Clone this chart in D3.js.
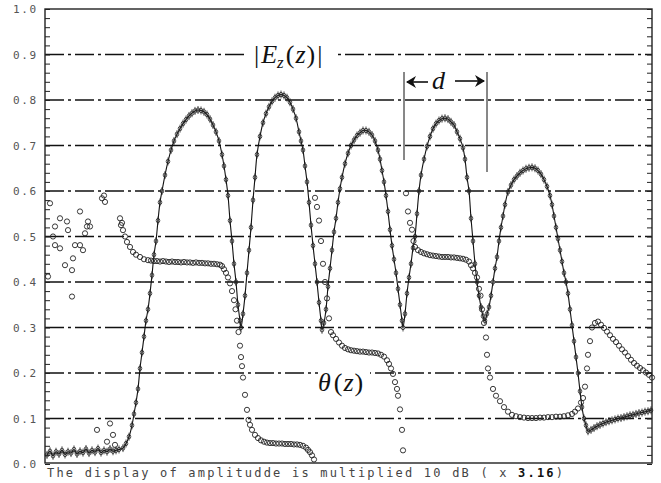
<!DOCTYPE html>
<html>
<head>
<meta charset="utf-8">
<script src="https://cdn.jsdelivr.net/npm/d3@7"></script>
<style>
  body { margin: 0; background: #fff; }
  svg { display: block; }
</style>
</head>
<body>
<svg width="661" height="483"></svg>
<script>
// y ticks (the z axis has no labels)
var yTicks = [0, 0.1, 0.2, 0.3, 0.4, 0.5, 0.6, 0.7, 0.8, 0.9, 1.0];
var yLabels = ['0.0', '0.1', '0.2', '0.3', '0.4', '0.5', '0.6', '0.7', '0.8', '0.9', '1.0'];
var footNote = 'The display of amplitudde is multiplied 10 dB ( x ';
var footBold = '3.16';

// |Ez(z)| samples, [z, value]
var amplitude = [
  [2,0.02],[5,0.028],[8,0.018],[11,0.027],[14,0.022],[17,0.03],[20,0.021],[23,0.027],[26,0.024],[29,0.032],
  [32,0.022],[35,0.028],[38,0.025],[41,0.033],[44,0.024],[47,0.03],[50,0.026],[53,0.034],[56,0.025],[59,0.03],
  [62,0.027],[65,0.033],[68,0.028],[71,0.03],[74,0.032],
  [78,0.035],[81,0.045],[84,0.06],[87,0.085],[89,0.11],[91,0.135],[93,0.165],[95,0.21],[97,0.245],[99,0.28],
  [101,0.315],[103,0.34],[105,0.375],[107,0.415],[109,0.46],[111,0.49],[113,0.535],[115,0.575],[117,0.6],
  [120,0.635],[123,0.665],[126,0.69],[129,0.71],[132,0.725],[135,0.737],[138,0.748],[141,0.757],[144,0.765],
  [147,0.771],[150,0.776],[153,0.778],[156,0.777],[159,0.774],[162,0.768],[165,0.758],[168,0.745],[171,0.73],
  [174,0.71],[177,0.68],[179,0.655],[181,0.625],[183,0.59],[185,0.535],[187,0.49],[189,0.44],[191,0.4],
  [193,0.35],[195,0.315],[196,0.3],
  [198,0.33],[200,0.37],[202,0.42],[204,0.47],[206,0.52],[208,0.58],[210,0.63],[212,0.68],[215,0.72],
  [218,0.75],[221,0.77],[224,0.785],[227,0.797],[230,0.805],[233,0.81],[236,0.812],[239,0.81],[242,0.805],
  [245,0.795],[248,0.78],[251,0.76],[254,0.73],[256,0.71],[258,0.69],[260,0.655],[262,0.62],[264,0.575],
  [266,0.525],[268,0.48],[270,0.44],[272,0.4],[274,0.355],[276,0.315],[277,0.295],
  [279,0.31],[281,0.34],[283,0.39],[285,0.43],[287,0.47],[289,0.51],[291,0.54],[293,0.575],[295,0.605],
  [297,0.63],[300,0.66],[303,0.683],[306,0.7],[309,0.712],[312,0.722],[315,0.728],[318,0.733],[321,0.733],
  [324,0.73],[327,0.723],[330,0.71],[333,0.69],[335,0.67],[337,0.645],[339,0.62],[341,0.59],[343,0.555],
  [345,0.515],[347,0.48],[349,0.45],[351,0.42],[353,0.385],[355,0.35],[357,0.315],[358,0.3],
  [360,0.33],[362,0.375],[364,0.41],[366,0.44],[368,0.475],[370,0.5],[372,0.55],[374,0.6],[376,0.635],
  [379,0.67],[382,0.698],[385,0.72],[388,0.737],[391,0.748],[394,0.755],[397,0.759],[400,0.76],[403,0.758],
  [406,0.752],[409,0.745],[412,0.73],[415,0.715],[418,0.695],[420,0.67],[422,0.63],[424,0.6],[426,0.54],
  [428,0.49],[430,0.44],[432,0.4],[434,0.37],[436,0.345],[438,0.325],[440,0.315],
  [442,0.33],[444,0.345],[446,0.37],[448,0.4],[450,0.43],[452,0.455],[454,0.49],[456,0.52],[458,0.545],
  [460,0.57],[463,0.598],[466,0.613],[469,0.625],[472,0.633],[475,0.64],[478,0.645],[481,0.649],[484,0.651],
  [487,0.652],[490,0.65],[493,0.645],[496,0.637],[499,0.625],[502,0.61],[505,0.59],[507,0.57],[509,0.545],
  [511,0.52],[513,0.495],[515,0.47],[517,0.445],[519,0.42],[521,0.4],[523,0.375],[525,0.34],[527,0.305],
  [529,0.27],[531,0.235],[533,0.2],[535,0.16],[537,0.125],[539,0.1],[541,0.085],[543,0.072],
  [546,0.075],[549,0.079],[552,0.083],[555,0.086],[558,0.089],[561,0.092],[564,0.094],[567,0.096],[570,0.098],
  [573,0.1],[576,0.101],[579,0.103],[582,0.105],[585,0.107],[588,0.108],[591,0.11],[594,0.112],[597,0.113],
  [600,0.115],[603,0.116],[606,0.118]
];

// theta(z) samples, [z, value]
var theta = [
  [3,0.412],[5,0.573],[8,0.5],[10,0.522],[10,0.481],[15,0.54],[15,0.474],[20,0.437],[22,0.533],[23,0.514],
  [27,0.426],[27,0.368],[28,0.452],[30,0.481],[35,0.481],[35,0.555],[38,0.47],[40,0.507],[42,0.522],[43,0.533],
  [45,0.522],[57,0.584],[59,0.59],[60,0.576],
  [52,0.075],[62,0.049],[65,0.089],[68,0.064],[70,0.042],
  [75,0.54],[76,0.525],[77,0.53],[78,0.514],[80,0.5],[82,0.488],[85,0.477],[88,0.466],[91,0.46],[95,0.455],
  [99,0.45],[103,0.448],[106,0.447],[109,0.446],[112,0.446],[115,0.445],[118,0.446],[121,0.445],[124,0.444],
  [127,0.445],[130,0.444],[133,0.444],[136,0.443],[139,0.444],[142,0.443],[145,0.443],[148,0.442],[151,0.443],
  [154,0.442],[157,0.442],[160,0.441],[163,0.441],[166,0.44],[169,0.44],[172,0.439],[175,0.438],
  [177,0.435],[179,0.428],[181,0.42],[183,0.41],[185,0.397],[187,0.38],[189,0.36],[190.5,0.34],[192,0.315],
  [193.5,0.29],[195,0.26],[196,0.235],[197,0.215],[198,0.19],[200,0.152],[202,0.119],[203.5,0.097],[205,0.086],
  [207,0.075],[210,0.064],[213,0.057],[216,0.052],[219,0.049],[222,0.047],[225,0.046],[228,0.046],[231,0.045],
  [234,0.045],[237,0.045],[240,0.044],[243,0.044],[246,0.044],[249,0.043],[252,0.043],[255,0.042],[258,0.04],
  [261,0.036],[263,0.031],[265,0.026],[267,0.019],[269,0.01],
  [270,0.585],[272,0.565],[274,0.535],[276,0.49],[278,0.44],[280,0.4],[282,0.364],[284,0.32],[286,0.29],
  [288,0.283],[291,0.275],[294,0.267],[297,0.26],[300,0.255],[303,0.252],[306,0.25],[309,0.249],[312,0.248],
  [315,0.247],[318,0.247],[321,0.246],[324,0.245],[327,0.245],[330,0.244],[333,0.243],[336,0.24],[339,0.236],
  [342,0.228],[344,0.22],[346,0.21],[348,0.198],[350,0.18],[352,0.165],[353,0.15],[355,0.12],[357,0.075],
  [358,0.03],
  [361,0.595],[363,0.555],[365,0.53],[367,0.515],[368.5,0.49],[370,0.477],[373,0.47],[376,0.466],[379,0.463],
  [382,0.461],[385,0.459],[388,0.458],[391,0.457],[394,0.456],[397,0.455],[400,0.455],[403,0.455],[406,0.454],
  [409,0.454],[412,0.453],[415,0.452],[418,0.451],[421,0.449],[424,0.445],[426,0.437],[428,0.43],[430,0.42],
  [432,0.41],[434,0.385],[435.5,0.37],[437,0.34],[439,0.31],[441,0.278],[442,0.24],[443,0.21],[445,0.19],
  [448,0.165],[451,0.15],[455,0.138],[459,0.125],[463,0.115],[467,0.108],[471,0.105],[475,0.103],[479,0.102],
  [483,0.101],[487,0.101],[491,0.101],[495,0.102],[499,0.102],[503,0.103],[507,0.103],[511,0.104],[515,0.104],
  [519,0.105],[523,0.107],[527,0.11],[530,0.115],[533,0.122],[536,0.135],[538,0.145],[540,0.17],[542,0.21],
  [543,0.24],[545,0.27],[547,0.3],[550,0.31],[553,0.313],[556,0.306],[559,0.299],[562,0.291],[565,0.283],
  [568,0.275],[571,0.268],[574,0.26],[577,0.252],[580,0.245],[583,0.237],[586,0.229],[589,0.222],[592,0.216],
  [595,0.211],[598,0.206],[601,0.201],[604,0.196],[607,0.19]
];

var svg = d3.select('svg');
// plot box edges (not named top/left: window.top is read-only)
var padL = 45, padR = 652, padT = 9, padB = 464;

var x = d3.scaleLinear().domain([0, 607]).range([padL, padR]);
var y = d3.scaleLinear().domain([0, 1]).range([padB, padT]);

// dash-dot grid lines
svg.append('g').selectAll('line')
  .data(yTicks.filter(function(d) { return d > 0 && d < 1; }))
  .enter().append('line')
  .attr('x1', padL).attr('x2', padR)
  .attr('y1', function(d) { return y(d); })
  .attr('y2', function(d) { return y(d); })
  .attr('stroke', '#111')
  .attr('stroke-width', 1.3)
  .attr('stroke-dasharray', '19,4,3,4');

// frame
svg.append('rect')
  .attr('x', padL).attr('y', padT)
  .attr('width', padR - padL).attr('height', padB - padT - 1)
  .attr('fill', 'none').attr('stroke', '#222').attr('stroke-width', 1.4);

// inward minor ticks on both sides
var minor = d3.range(0, 51).map(function(i) { return i / 50; });
var axL = d3.axisRight(y).tickValues(minor).tickSize(5).tickFormat('');
var axR = d3.axisLeft(y).tickValues(minor).tickSize(5).tickFormat('');
svg.append('g').attr('transform', 'translate(' + padL + ',0)').call(axL);
svg.append('g').attr('transform', 'translate(' + padR + ',0)').call(axR);
svg.selectAll('.domain').remove();
svg.selectAll('.tick line').attr('stroke', '#222').attr('stroke-width', 1);

// tick labels
svg.append('g').selectAll('text')
  .data(yTicks)
  .enter().append('text')
  .attr('x', 36)
  .attr('y', function(d) { return y(d) + 4; })
  .attr('text-anchor', 'end')
  .attr('font-family', 'DejaVu Sans Mono')
  .attr('font-size', 11)
  .attr('textLength', 23)
  .attr('fill', '#555')
  .text(function(d, i) { return yLabels[i]; });

// label backgrounds that break the grid lines
svg.append('rect').attr('x', 246).attr('y', 38).attr('width', 88).attr('height', 32).attr('fill', '#fff');
svg.append('rect').attr('x', 318).attr('y', 365).attr('width', 52).attr('height', 34).attr('fill', '#fff');

// amplitude: line with small marks
var line = d3.line()
  .x(function(d) { return x(d[0]); })
  .y(function(d) { return y(d[1]); })
  .curve(d3.curveCatmullRom);

svg.append('path')
  .datum(amplitude)
  .attr('d', line)
  .attr('fill', 'none')
  .attr('stroke', '#111')
  .attr('stroke-width', 1.1);

var marks = svg.append('g').selectAll('g')
  .data(amplitude)
  .enter().append('g')
  .attr('transform', function(d) { return 'translate(' + x(d[0]) + ',' + y(d[1]) + ')'; });
marks.append('ellipse').attr('rx', 1.8).attr('ry', 2.2)
  .attr('fill', 'none').attr('stroke', '#222').attr('stroke-width', 0.8);
marks.append('line').attr('y1', -4).attr('y2', 4)
  .attr('stroke', '#222').attr('stroke-width', 0.8);

// theta: open circles
svg.append('g').selectAll('circle')
  .data(theta)
  .enter().append('circle')
  .attr('cx', function(d) { return x(d[0]); })
  .attr('cy', function(d) { return y(d[1]); })
  .attr('r', 2.6)
  .attr('fill', 'none')
  .attr('stroke', '#222')
  .attr('stroke-width', 0.9);

// |Ez(z)| label
var ez = svg.append('text')
  .attr('x', 254).attr('y', 63)
  .attr('font-family', 'Liberation Serif')
  .attr('font-size', 26)
  .attr('fill', '#111');
ez.append('tspan').text('|');
ez.append('tspan').attr('dx', 2).attr('font-style', 'italic').text('E');
ez.append('tspan').attr('dy', 5).attr('font-size', 17).attr('font-style', 'italic').text('z');
ez.append('tspan').attr('dy', -5).attr('dx', 2).text('(');
ez.append('tspan').attr('dx', 1).attr('font-style', 'italic').text('z');
ez.append('tspan').attr('dx', 1).text(')');
ez.append('tspan').attr('dx', 2).text('|');

// theta(z) label
var th = svg.append('text')
  .attr('x', 318).attr('y', 391)
  .attr('font-family', 'Liberation Serif')
  .attr('font-size', 26)
  .attr('fill', '#111');
th.append('tspan').attr('font-style', 'italic').text('\u03b8');
th.append('tspan').attr('dx', 3).text('(');
th.append('tspan').attr('dx', 1).attr('font-style', 'italic').text('z');
th.append('tspan').attr('dx', 1).text(')');

// period marker d
var dl = 404, dr = 487;
svg.append('line').attr('x1', dl).attr('x2', dl).attr('y1', 72).attr('y2', 160)
  .attr('stroke', '#111').attr('stroke-width', 1);
svg.append('line').attr('x1', dr).attr('x2', dr).attr('y1', 72).attr('y2', 172)
  .attr('stroke', '#111').attr('stroke-width', 1);
svg.append('line').attr('x1', dl + 3).attr('x2', 428).attr('y1', 82).attr('y2', 82)
  .attr('stroke', '#111').attr('stroke-width', 1.6);
svg.append('line').attr('x1', 455).attr('x2', dr - 3).attr('y1', 81).attr('y2', 81)
  .attr('stroke', '#111').attr('stroke-width', 1.6);
svg.append('path').attr('d', 'M' + (dl + 2) + ',82 l10,-6 l-3,6 l3,6 z').attr('fill', '#111');
svg.append('path').attr('d', 'M' + (dr - 2) + ',81 l-10,-6 l3,6 l-3,6 z').attr('fill', '#111');
svg.append('text')
  .attr('x', 432).attr('y', 89)
  .attr('font-family', 'Liberation Serif')
  .attr('font-size', 26)
  .attr('font-style', 'italic')
  .attr('fill', '#111')
  .text('d');

// footnote
var foot = svg.append('text')
  .attr('x', 47).attr('y', 477)
  .attr('font-family', 'DejaVu Sans Mono')
  .attr('font-size', 12)
  .attr('fill', '#444')
  .attr('textLength', 516)
  .attr('lengthAdjust', 'spacing');
foot.append('tspan').text(footNote);
foot.append('tspan').attr('font-weight', 'bold').attr('fill', '#111').text(footBold);
foot.append('tspan').text(')');
</script>
</body>
</html>
